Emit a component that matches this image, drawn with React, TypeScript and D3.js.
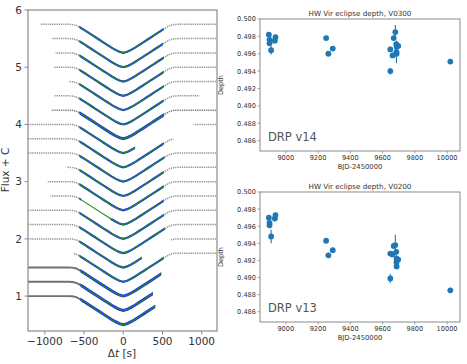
import React from 'react';
import * as d3 from 'd3';

// eclipse template (normalised flux vs dt in s)
const EC_T = [-1300, -700, -650, -600, -550, -500, -450, -400, -350, -300, -250, -200, -150, -100, -50, 0,
  50, 100, 150, 200, 250, 300, 350, 400, 450, 500, 550, 600, 650, 700, 1300];
const EC_F = [1, 1, 0.997, 0.982, 0.945, 0.903, 0.858, 0.814, 0.769, 0.725, 0.68, 0.637, 0.592, 0.553, 0.519, 0.5,
  0.519, 0.553, 0.592, 0.637, 0.68, 0.725, 0.769, 0.814, 0.858, 0.903, 0.945, 0.982, 0.997, 1, 1];

// one entry per stacked light curve, top to bottom
const CURVE_MIN = [5.25, 5.0, 4.75, 4.5, 4.25, 4.0, 3.75, 3.5, 3.25, 3.0, 2.75, 2.5, 2.25, 2.0, 1.75, 1.5, 1.25, 1.0, 0.75, 0.5];
const GRAY_SEGS = [
  [[-1056, 1200]], [[-907, 1200]], [[-865, 1200]], [[-886, 1200]], [[-695, 1200]],
  [[-880, 967]], [[-916, 1200]], [[-1215, 150], [895, 1200]], [[-1215, 640]], [[-1215, 1200]],
  [[-717, 1200]], [[-971, 1200]], [[-929, -525], [-165, 1200]], [[-1215, 1200]], [[-1215, 1200]],
  [[-1215, 237], [600, 1200]], [[-640, 1200]], [[-1215, 483]], [[-1215, 378]], [[-1215, 407]],
];
const FIT_WIN = [
  [-560, 515], [-560, 505], [-560, 515], [-560, 515], [-560, 515],
  [-560, 515], [-560, 520], [-560, 150], [-560, 515], [-560, 525],
  [-560, 515], [-560, 515], [-560, 515], [-560, 520], [-560, 530],
  [-560, 237], [-560, 515], [-547, 483], [-547, 378], [-547, 407],
];
const FIT_GAP: Record<number, number[]> = { 12: [-525, -165] };
const DENSE = [6, 17, 18, 19];

const LC_XTICKS = [-1000, -500, 0, 500, 1000];
const LC_YTICKS = [1, 2, 3, 4, 5, 6];

// eclipse depth measurements
const BJD = [8895, 8899, 8899, 8909, 8932, 8936, 9250, 9264, 9291, 9648, 9648, 9662, 9669, 9679, 9685, 9687, 9686, 9687, 9697, 10020];
const DEPTH_V0300 = [0.4982, 0.4976, 0.4972, 0.4964, 0.4975, 0.4979, 0.4978, 0.4960, 0.4966, 0.4965, 0.4940, 0.4958, 0.4978, 0.4985, 0.4971, 0.4968, 0.4962, 0.4960, 0.4969, 0.4951];
const ERR_V0300 = [0.0002, 0.0002, 0.0002, 0.0005, 0.0002, 0.0002, 0.0002, 0.0002, 0.0002, 0.0003, 0.0004, 0.0003, 0.0003, 0.0008, 0.0003, 0.0004, 0.0013, 0.0003, 0.0002, 0.0002];
const DEPTH_V0200 = [0.4970, 0.4964, 0.4961, 0.4948, 0.4969, 0.4973, 0.4943, 0.4926, 0.4932, 0.4928, 0.4899, 0.4927, 0.4937, 0.4938, 0.4930, 0.4922, 0.4918, 0.4913, 0.4921, 0.4885];
const ERR_V0200 = [0.0002, 0.0002, 0.0002, 0.0008, 0.0003, 0.0003, 0.0002, 0.0003, 0.0002, 0.0003, 0.0005, 0.0003, 0.0003, 0.0012, 0.0003, 0.0004, 0.0006, 0.0003, 0.0002, 0.0003];
const BJD_TICKS = [9000, 9200, 9400, 9600, 9800, 10000];
const DEPTH_TICKS = [0.486, 0.488, 0.490, 0.492, 0.494, 0.496, 0.498, 0.500];

const FONT = 'DejaVu Sans, sans-serif';
const SPINE = '#8a8a8a';
const TXT = '#333';

const LightCurves = () => {
  const x = d3.scaleLinear().domain([-1215, 1195]).range([28, 217]);
  const y = d3.scaleLinear().domain([0.39, 6]).range([331, 10]);
  const fmt = d3.format('d');

  const line = d3.line<number[]>().x(d => x(d[0])).y(d => y(d[1]));

  return (
    <g>
      <defs>
        <clipPath id="lcframe"><rect x={28} y={10} width={189} height={321} /></clipPath>
        {CURVE_MIN.map((m, i) => (
          <React.Fragment key={i}>
            <clipPath id={`gray${i}`}>
              {GRAY_SEGS[i].map((s, j) => (
                <rect key={j} x={x(s[0])} y={0} width={x(s[1]) - x(s[0])} height={364} />
              ))}
            </clipPath>
            <clipPath id={`fit${i}`}>
              <rect x={x(FIT_WIN[i][0])} y={0} width={x(FIT_WIN[i][1]) - x(FIT_WIN[i][0])} height={364} />
            </clipPath>
          </React.Fragment>
        ))}
      </defs>
      <g clipPath="url(#lcframe)">
        {CURVE_MIN.map((m, i) => {
          const off = m - 0.5;
          const pts = EC_T.map((t, j) => [t, EC_F[j] + off]);
          const gap = FIT_GAP[i];
          const fitPts = gap ? pts.filter(p => p[0] <= gap[0] || p[0] >= gap[1]) : pts;
          const blueSegs = gap ? [pts.filter(p => p[0] <= gap[0]), pts.filter(p => p[0] >= gap[1])] : [pts];
          const dense = DENSE.includes(i);
          const solidGray = i >= 17;
          return (
            <g key={i}>
              <path d={line(pts) || ''} clipPath={`url(#gray${i})`} fill="none"
                stroke={solidGray ? '#707070' : dense ? '#7a7a7a' : '#939393'} strokeWidth={solidGray ? 1.9 : 1.5}
                strokeDasharray={solidGray ? undefined : '1.3 0.9'} />
              <g clipPath={`url(#fit${i})`}>
                {blueSegs.map((seg, k) => (
                  <path key={k} d={line(seg) || ''} fill="none" stroke="#2436f0"
                    strokeWidth={dense ? 2.9 : 2.2} strokeLinecap="round" />
                ))}
                <path d={line(fitPts) || ''} fill="none" stroke="#1e8c1e" strokeWidth={1.1} />
              </g>
            </g>
          );
        })}
      </g>
      <rect x={28} y={10} width={189} height={321} fill="none" stroke={SPINE} strokeWidth={1.2} />
      {LC_XTICKS.map(t => (
        <g key={t}>
          <line x1={x(t)} x2={x(t)} y1={331} y2={334.5} stroke={SPINE} />
          <text x={x(t)} y={345} textAnchor="middle" fontSize={10.5} fontFamily={FONT} fill={TXT}>
            {fmt(t)}
          </text>
        </g>
      ))}
      {LC_YTICKS.map(t => (
        <g key={t}>
          <line x1={24.5} x2={28} y1={y(t)} y2={y(t)} stroke={SPINE} />
          <text x={22} y={y(t) + 3.8} textAnchor="end" fontSize={10.5} fontFamily={FONT} fill={TXT}>{t}</text>
        </g>
      ))}
      <text x={122} y={357} textAnchor="middle" fontSize={10.5} fontFamily={FONT} fill={TXT}>
        Δ<tspan fontStyle="italic">t</tspan> [s]
      </text>
      <text transform="translate(8.5,170) rotate(-90)" textAnchor="middle" fontSize={10.5} fontFamily={FONT} fill={TXT}>
        Flux + C
      </text>
    </g>
  );
};

type PanelProps = { top: number; bottom: number; depth: number[]; err: number[]; title: string; label: string };

const DepthPanel = ({ top, bottom, depth, err, title, label }: PanelProps) => {
  const x = d3.scaleLinear().domain([8840, 10080]).range([260, 460]);
  const y = d3.scaleLinear().domain([0.4848, 0.5]).range([bottom, top]);
  const f3 = d3.format('.3f');
  const blue = '#1f77b4';
  return (
    <g>
      {BJD.map((b, i) => (
        <line key={`e${i}`} x1={x(b)} x2={x(b)} y1={y(depth[i] - err[i])} y2={y(depth[i] + err[i])}
          stroke={blue} strokeWidth={1.1} />
      ))}
      {BJD.map((b, i) => (
        <circle key={`p${i}`} cx={x(b)} cy={y(depth[i])} r={2.9} fill={blue} />
      ))}
      <rect x={260} y={top} width={200} height={bottom - top} fill="none" stroke={SPINE} strokeWidth={1} />
      {BJD_TICKS.map(t => (
        <g key={t}>
          <line x1={x(t)} x2={x(t)} y1={bottom} y2={bottom + 2.5} stroke={SPINE} strokeWidth={0.8} />
          <text x={x(t)} y={bottom + 9} textAnchor="middle" fontSize={6.6} fontFamily={FONT} fill={TXT}>{t}</text>
        </g>
      ))}
      {DEPTH_TICKS.map(t => (
        <g key={t}>
          <line x1={257.5} x2={260} y1={y(t)} y2={y(t)} stroke={SPINE} strokeWidth={0.8} />
          <text x={256} y={y(t) + 2.4} textAnchor="end" fontSize={6.6} fontFamily={FONT} fill={TXT}>{f3(t)}</text>
        </g>
      ))}
      <text x={360} y={top - 3.5} textAnchor="middle" fontSize={7.2} fontFamily={FONT} fill={TXT}>{title}</text>
      <text x={360} y={bottom + 18} textAnchor="middle" fontSize={6.8} fontFamily={FONT} fill={TXT}>BJD-2450000</text>
      <text transform={`translate(223,${(top + bottom) / 2}) rotate(-90)`} textAnchor="middle"
        fontSize={6.6} fontFamily={FONT} fill={TXT}>Depth</text>
      <text x={268} y={bottom - 10} fontSize={11.5} fontFamily={FONT} fill="#555">{label}</text>
    </g>
  );
};

export default function App() {
  return (
    <svg width={467} height={364} style={{ position: 'absolute', left: 0, top: 0, background: '#fff' }}>
      <rect width={467} height={364} fill="#fff" />
      <LightCurves />
      <DepthPanel top={19} bottom={151} depth={DEPTH_V0300} err={ERR_V0300}
        title="HW Vir eclipse depth, V0300" label="DRP v14" />
      <DepthPanel top={192} bottom={322} depth={DEPTH_V0200} err={ERR_V0200}
        title="HW Vir eclipse depth, V0200" label="DRP v13" />
    </svg>
  );
}
